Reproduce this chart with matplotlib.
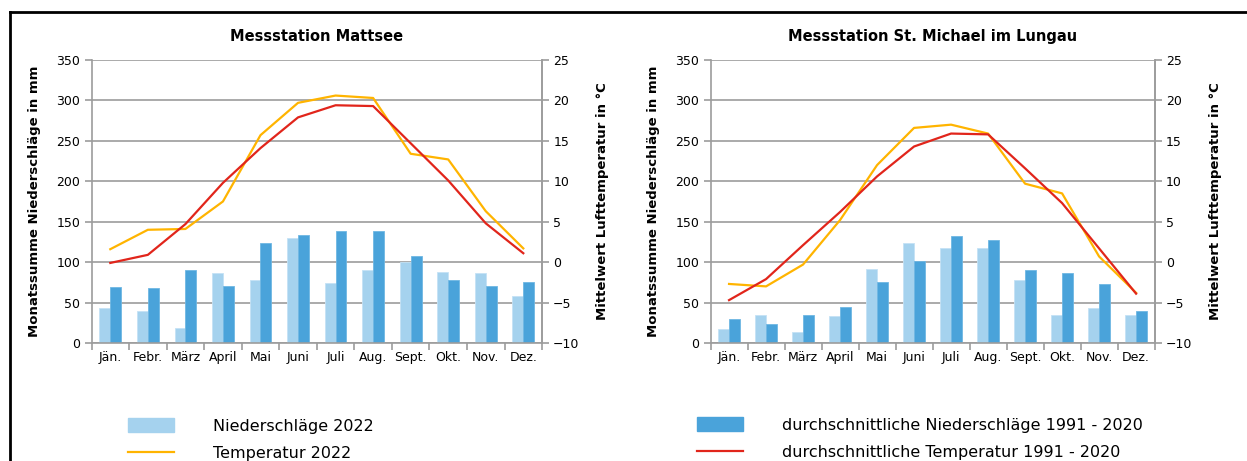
import numpy as np
import matplotlib as mpl
mpl.use('Agg')
from matplotlib import pyplot as plt
from matplotlib.patches import Patch
from matplotlib.lines import Line2D

months = ["Jän.", "Febr.", "März", "April", "Mai", "Juni",
          "Juli", "Aug.", "Sept.", "Okt.", "Nov.", "Dez."]

# Messstation Mattsee
mattsee_prec_2022 = [43, 40, 19, 87, 78, 130, 74, 90, 100, 88, 87, 58]
mattsee_prec_avg = [69, 68, 90, 71, 124, 134, 138, 138, 108, 78, 71, 75]
mattsee_temp_2022 = [1.6, 4.0, 4.1, 7.5, 15.7, 19.7, 20.6, 20.3, 13.4, 12.7, 6.3, 1.7]
mattsee_temp_avg = [-0.1, 0.9, 4.7, 9.8, 14.1, 17.9, 19.4, 19.3, 14.7, 10.1, 4.8, 1.1]

# Messstation St. Michael im Lungau
michael_prec_2022 = [17, 35, 14, 33, 92, 124, 118, 118, 78, 35, 43, 34]
michael_prec_avg = [30, 23, 34, 44, 75, 102, 132, 127, 90, 86, 73, 40]
michael_temp_2022 = [-2.7, -3.0, -0.3, 5.2, 12.0, 16.6, 17.0, 15.9, 9.7, 8.5, 0.7, -3.8]
michael_temp_avg = [-4.7, -2.1, 2.1, 6.2, 10.6, 14.3, 15.9, 15.8, 11.6, 7.3, 1.7, -3.9]

c_light = '#a5d2ee'
c_dark = '#4aa3da'
c_yellow = '#ffb400'
c_red = '#e1251b'
c_grid = '#9c9c9c'

plt.rcParams['font.family'] = ['DejaVu Sans']

fig = plt.figure(figsize=(12.47, 4.61), dpi=100)


def draw_station(rect, title, prec22, precavg, temp22, tempavg):
    ax = fig.add_axes(rect)
    x = np.arange(len(months))
    w = 0.29
    ax.bar(x - w/2, prec22, width=w, color=c_light, edgecolor='#c4e2f5', linewidth=0.6, zorder=2)
    ax.bar(x + w/2, precavg, width=w, color=c_dark, edgecolor='#6fb7e3', linewidth=0.6, zorder=2)
    ax.set_xlim(-0.5, 11.5)
    ax.set_ylim(0, 350)
    ax.set_yticks(np.arange(0, 351, 50))
    ax.grid(axis='y', color=c_grid, linewidth=1.2, zorder=0)
    ax.set_xticks(x)
    ax.set_xticklabels(months, fontsize=9)
    ax.set_xticks(np.arange(-0.5, 12, 1), minor=True)
    ax.tick_params(axis='x', which='major', length=0, pad=6)
    ax.tick_params(axis='x', which='minor', length=5, color=c_grid, width=1.2)
    ax.tick_params(axis='y', length=5, color=c_grid, width=1.2, labelsize=9, pad=3)
    ax.spines['top'].set_visible(False)
    for s in ['left', 'bottom', 'right']:
        ax.spines[s].set_color(c_grid)
        ax.spines[s].set_linewidth(1.2)
    ax.set_ylabel('Monatssumme Niederschläge in mm', fontsize=9.5, fontweight='bold', labelpad=11)
    ax.set_title(title, fontsize=10.5, fontweight='bold', pad=14)

    ax2 = ax.twinx()
    ax2.plot(x, temp22, color=c_yellow, linewidth=1.6, zorder=3)
    ax2.plot(x, tempavg, color=c_red, linewidth=1.6, zorder=3)
    ax2.set_ylim(-10, 25)
    ax2.set_yticks(np.arange(-10, 26, 5))
    ax2.tick_params(axis='y', length=5, color=c_grid, width=1.2, labelsize=9, pad=3)
    for s in ['top', 'left', 'bottom']:
        ax2.spines[s].set_visible(False)
    ax2.spines['right'].set_color(c_grid)
    ax2.spines['right'].set_linewidth(1.2)
    ax2.set_ylabel('Mittelwert Lufttemperatur in °C', fontsize=9.5, fontweight='bold', labelpad=12)
    return ax, ax2


draw_station([0.0734, 0.256, 0.3613, 0.6139], 'Messstation Mattsee',
             mattsee_prec_2022, mattsee_prec_avg, mattsee_temp_2022, mattsee_temp_avg)
draw_station([0.5698, 0.256, 0.3561, 0.6139], 'Messstation St. Michael im Lungau',
             michael_prec_2022, michael_prec_avg, michael_temp_2022, michael_temp_avg)

# legend
leg_kw = dict(frameon=False, fontsize=11.5, handlelength=2.9, handleheight=1.0,
              handletextpad=2.4, labelspacing=0.75, borderpad=0, borderaxespad=0,
              loc='upper left')
fig.legend(handles=[Patch(color=c_light), Line2D([], [], color=c_yellow, linewidth=1.6)],
           labels=['Niederschläge 2022', 'Temperatur 2022'],
           bbox_to_anchor=(128/1247, 0.0933), **leg_kw)
fig.legend(handles=[Patch(color=c_dark), Line2D([], [], color=c_red, linewidth=1.6)],
           labels=['durchschnittliche Niederschläge 1991 - 2020',
                   'durchschnittliche Temperatur 1991 - 2020'],
           bbox_to_anchor=(697/1247, 0.0955), **leg_kw)

# outer frame (top and left)
fig.add_artist(Line2D([10/1247, 1], [1 - 12/461, 1 - 12/461], color='black', linewidth=2,
                      transform=fig.transFigure))
fig.add_artist(Line2D([10/1247, 10/1247], [0, 1 - 12/461], color='black', linewidth=2,
                      transform=fig.transFigure))

fig.savefig('out.png', dpi=100)
